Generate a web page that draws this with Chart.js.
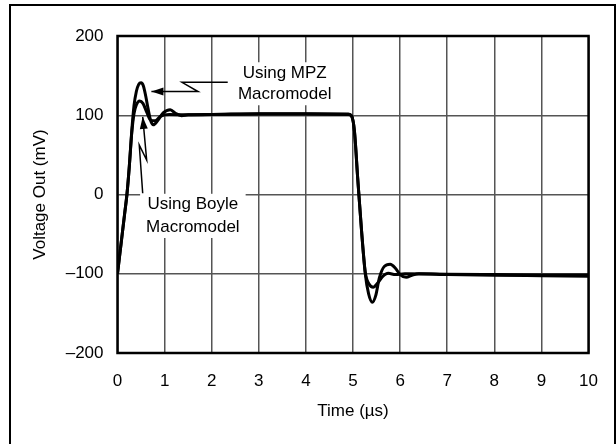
<!DOCTYPE html>
<html><head><meta charset="utf-8">
<script src="https://cdn.jsdelivr.net/npm/chart.js@4.4.1/dist/chart.umd.min.js"></script>
<style>
html,body{margin:0;padding:0;background:#fff;}
#wrap{position:relative;width:616px;height:444px;overflow:hidden;background:#fff;}
#frame{position:absolute;left:9px;top:4px;width:603px;height:470px;border:2px solid #000;pointer-events:none;}
canvas{position:absolute;left:0;top:0;}
</style></head><body>
<div id="wrap"><canvas id="c" width="616" height="444"></canvas><div id="frame"></div></div>
<script>
// Time (µs) and voltage (mV) samples
const timeMPZ = [0,0.05,0.1,0.15,0.2,0.25,0.3,0.35,0.4,0.45,0.5,0.55,0.6,0.65,0.7,0.76,0.85,0.97,1.12,1.24,1.36,1.5,2,3,4,4.9,4.97,5.03,5.1,5.18,5.26,5.33,5.41,5.48,5.56,5.66,5.79,5.9,6.0,6.13,6.25,6.4,7,8,9,10];
const voltMPZ = [-100,-75,-50,-25,0,35,78,112,130,139,141,137,124,108,94,88,93,103,107,102,99.5,100.5,101,102,102,101.5,99,80,20,-45,-100,-125,-136,-128,-105,-91,-88,-93,-101,-104.5,-102,-100,-101,-102,-102.5,-103];
const timeBoyle = [0,0.05,0.1,0.15,0.2,0.25,0.3,0.35,0.4,0.47,0.54,0.62,0.7,0.8,0.92,1.1,1.5,2,3,4,4.9,4.97,5.03,5.1,5.18,5.26,5.34,5.43,5.52,5.62,5.75,5.9,6.1,7,8,9,10];
const voltBoyle = [-100,-75,-50,-25,0,35,76,102,113,118,115,104,94,93,99,101,100.5,101,101.5,101.5,101,99,80,20,-45,-98,-113,-117,-112,-104,-99.5,-101,-100,-100.5,-101,-101.5,-101.5];
const xTickValues = [0,1,2,3,4,5,6,7,8,9,10];
const yTickValues = [-200,-100,0,100,200];
const labelMPZ = ['Using MPZ', 'Macromodel'];
const labelBoyle = ['Using Boyle', 'Macromodel'];

const FONT = '"Liberation Sans", Arial, Helvetica, sans-serif';
const FS = 17;

const annotations = [
  {lines: labelMPZ, t: 3.55, v: [153, 126.5],
   arrow: [[2.34, 141.5], [1.37, 141.5], [1.71, 130], [0.72, 130]]},
  {lines: labelBoyle, t: 1.6, v: [-13, -41],
   arrow: [[0.535, 1.5], [0.462, 62.5], [0.619, 43.5], [0.535, 98]]}
];

const annotPlugin = {
  id: 'annot',
  beforeDatasetsDraw(chart) {
    const {ctx, scales: {x, y}} = chart;
    ctx.save();
    ctx.font = FS + 'px ' + FONT;
    annotations.forEach(a => {
      const cx = x.getPixelForValue(a.t);
      const ys = a.v.map(v => y.getPixelForValue(v));
      const w = Math.max(...a.lines.map(l => ctx.measureText(l).width));
      ctx.fillStyle = '#fff';
      ctx.fillRect(cx - w / 2 - 6, ys[0] - 11, w + 12, ys[ys.length - 1] - ys[0] + 22);
    });
    ctx.restore();
  },
  afterDatasetsDraw(chart) {
    const {ctx, scales: {x, y}, chartArea: ca} = chart;
    ctx.save();
    ctx.font = FS + 'px ' + FONT;
    ctx.fillStyle = '#000';
    ctx.textAlign = 'center';
    ctx.textBaseline = 'middle';
    annotations.forEach(a => {
      const cx = x.getPixelForValue(a.t);
      a.lines.forEach((l, i) => ctx.fillText(l, cx, y.getPixelForValue(a.v[i])));
      const pts = a.arrow.map(p => [x.getPixelForValue(p[0]), y.getPixelForValue(p[1])]);
      ctx.strokeStyle = '#000';
      ctx.lineWidth = 1.5;
      ctx.beginPath();
      ctx.moveTo(pts[0][0], pts[0][1]);
      for (let i = 1; i < pts.length; i++) ctx.lineTo(pts[i][0], pts[i][1]);
      ctx.stroke();
      const [x1, y1] = pts[pts.length - 2], [x2, y2] = pts[pts.length - 1];
      const ang = Math.atan2(y2 - y1, x2 - x1);
      const L = 12, W = 4;
      ctx.beginPath();
      ctx.moveTo(x2, y2);
      ctx.lineTo(x2 - L * Math.cos(ang) + W * Math.sin(ang), y2 - L * Math.sin(ang) - W * Math.cos(ang));
      ctx.lineTo(x2 - L * Math.cos(ang) - W * Math.sin(ang), y2 - L * Math.sin(ang) + W * Math.cos(ang));
      ctx.closePath();
      ctx.fill();
    });
    // plot frame
    ctx.lineWidth = 2.5;
    ctx.strokeStyle = '#000';
    ctx.strokeRect(ca.left, ca.top, ca.right - ca.left, ca.bottom - ca.top);
    ctx.restore();
  }
};

const mk = (ts, vs) => ts.map((t, i) => ({x: t, y: vs[i]}));

new Chart(document.getElementById('c'), {
  type: 'line',
  data: {
    datasets: [
      {label: 'MPZ', data: mk(timeMPZ, voltMPZ), borderColor: '#000', borderWidth: 3,
       pointRadius: 0, cubicInterpolationMode: 'monotone', fill: false},
      {label: 'Boyle', data: mk(timeBoyle, voltBoyle), borderColor: '#000', borderWidth: 3,
       pointRadius: 0, cubicInterpolationMode: 'monotone', fill: false}
    ]
  },
  options: {
    responsive: false, animation: false, devicePixelRatio: 1,
    layout: {padding: {left: 0, top: 36, right: 27, bottom: 0}},
    plugins: {legend: {display: false}, tooltip: {enabled: false}},
    scales: {
      x: {
        type: 'linear', min: 0, max: 10,
        afterFit(s) { s.height = 91; },
        afterBuildTicks(s) { s.ticks = xTickValues.map(v => ({value: v})); },
        grid: {color: '#555', lineWidth: 1.5, drawTicks: false},
        border: {display: false},
        ticks: {padding: 18, color: '#000', font: {family: FONT, size: FS}, maxRotation: 0},
        title: {display: true, text: 'Time (µs)', color: '#000', font: {family: FONT, size: FS},
                padding: {top: 0, bottom: 22}}
      },
      y: {
        min: -200, max: 200,
        afterFit(s) { s.width = 117.5; },
        afterBuildTicks(s) { s.ticks = yTickValues.map(v => ({value: v})); },
        grid: {color: '#555', lineWidth: 1.5, drawTicks: false},
        border: {display: false},
        ticks: {padding: 14, color: '#000', font: {family: FONT, size: FS},
                callback: v => v < 0 ? '\u2013' + Math.abs(v) : String(v)},
        title: {display: true, text: 'Voltage Out (mV)', color: '#000', font: {family: FONT, size: FS},
                padding: {top: 30, bottom: 0}}
      }
    }
  },
  plugins: [annotPlugin]
});
</script>
</body></html>
